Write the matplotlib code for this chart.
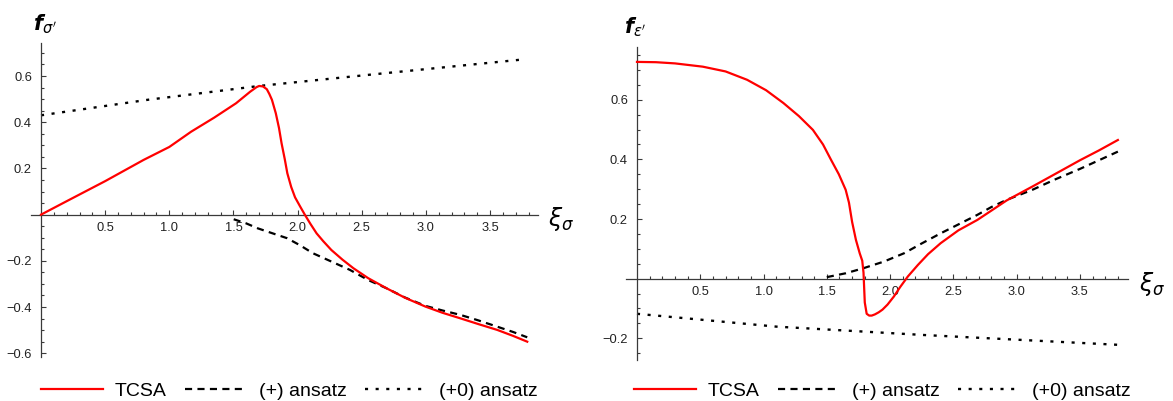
import matplotlib
matplotlib.use("Agg")
import matplotlib.pyplot as plt
import numpy as np
from matplotlib.ticker import FixedLocator

plt.rcParams['font.family'] = ['Liberation Sans', 'DejaVu Sans']
plt.rcParams['mathtext.fontset'] = 'dejavusans'

# ---------------- data: left panel (f_sigma') ----------------
L_tcsa_x = [0.0, 0.22, 0.50, 0.80, 1.00, 1.17, 1.35, 1.52, 1.63, 1.68, 1.70, 1.73, 1.76, 1.78,
            1.80, 1.83, 1.855, 1.875, 1.90, 1.92, 1.95, 1.98, 2.02, 2.056, 2.10, 2.148, 2.20,
            2.263, 2.35, 2.435, 2.55, 2.694, 2.838, 2.996, 3.13, 3.269, 3.41, 3.556, 3.68, 3.79]
L_tcsa_y = [0.0, 0.064, 0.145, 0.237, 0.293, 0.359, 0.42, 0.482, 0.532, 0.552, 0.557, 0.555, 0.543, 0.522,
            0.497, 0.439, 0.375, 0.309, 0.240, 0.179, 0.120, 0.075, 0.035, 0.0, -0.040, -0.081, -0.115,
            -0.153, -0.195, -0.232, -0.275, -0.319, -0.360, -0.398, -0.425, -0.449, -0.474, -0.499, -0.525, -0.550]
L_plus_x = [1.502, 1.60, 1.688, 1.80, 1.918, 2.02, 2.119, 2.263, 2.407, 2.55, 2.694, 2.838,
            2.996, 3.13, 3.269, 3.41, 3.556, 3.68, 3.79]
L_plus_y = [-0.02, -0.038, -0.059, -0.080, -0.102, -0.133, -0.167, -0.203, -0.239, -0.283, -0.319, -0.359,
            -0.395, -0.415, -0.434, -0.458, -0.485, -0.508, -0.531]
L_plus0_x = [0.0, 0.83, 1.70, 2.55, 3.78]
L_plus0_y = [0.43, 0.497, 0.557, 0.605, 0.673]

# ---------------- data: right panel (f_epsilon') ----------------
R_tcsa_x = [0.0, 0.15, 0.30, 0.52, 0.70, 0.87, 1.02, 1.157, 1.28, 1.39, 1.47, 1.534, 1.595, 1.649,
            1.675, 1.70, 1.73, 1.76, 1.78, 1.79, 1.80, 1.815, 1.835, 1.855, 1.88, 1.91, 1.94,
            1.98, 2.03, 2.08, 2.14, 2.22, 2.30, 2.40, 2.54, 2.69, 2.80, 2.92, 3.125, 3.30, 3.50, 3.65, 3.80]
R_tcsa_y = [0.727, 0.726, 0.722, 0.711, 0.695, 0.667, 0.632, 0.589, 0.545, 0.499, 0.450, 0.398, 0.350, 0.298,
            0.255, 0.190, 0.130, 0.085, 0.060, 0.020, -0.080, -0.118, -0.124, -0.124, -0.120, -0.113, -0.104,
            -0.087, -0.060, -0.028, 0.007, 0.046, 0.082, 0.119, 0.162, 0.197, 0.228, 0.262, 0.309, 0.350, 0.397, 0.430, 0.465]
R_plus_x = [1.50, 1.65, 1.79, 1.95, 2.11, 2.25, 2.40, 2.55, 2.69, 2.80, 2.92, 3.125, 3.30, 3.50, 3.65, 3.80]
R_plus_y = [0.005, 0.018, 0.035, 0.057, 0.085, 0.118, 0.152, 0.184, 0.214, 0.240, 0.264, 0.298, 0.332, 0.368, 0.397, 0.426]
R_plus0_x = [0.0, 1.10, 2.26, 3.80]
R_plus0_y = [-0.118, -0.161, -0.189, -0.222]

x_ticks = [0.5, 1.0, 1.5, 2.0, 2.5, 3.0, 3.5]
L_y_ticks = [-0.6, -0.4, -0.2, 0.2, 0.4, 0.6]
R_y_ticks = [-0.2, 0.2, 0.4, 0.6]
legend_labels = ['TCSA', '(+) ansatz', '(+0) ansatz']

W, H = 1173, 401
fig = plt.figure(figsize=(W / 100, H / 100), dpi=100)

AX_COL = '#3a3a3a'


def px_axes(x0, x1, y0, y1):
    return fig.add_axes([x0 / W, 1 - y1 / H, (x1 - x0) / W, (y1 - y0) / H])


def style(ax, xlim, ylim, yticks, yminor):
    ax.set_xlim(*xlim)
    ax.set_ylim(*ylim)
    for s in ['top', 'right']:
        ax.spines[s].set_visible(False)
    ax.spines['left'].set_position(('data', 0))
    ax.spines['bottom'].set_position(('data', 0))
    for s in ['left', 'bottom']:
        ax.spines[s].set_color(AX_COL)
        ax.spines[s].set_linewidth(0.9)
    ax.xaxis.set_major_locator(FixedLocator(x_ticks))
    ax.xaxis.set_minor_locator(FixedLocator(np.round(np.arange(0.1, 3.85, 0.1), 2)))
    ax.yaxis.set_major_locator(FixedLocator(yticks))
    ax.yaxis.set_minor_locator(FixedLocator(yminor))
    ax.set_xticklabels([f'{v:.1f}' for v in x_ticks])
    ax.set_yticklabels([f'{v:.1f}'.replace('-', '\u2212') for v in yticks])
    ax.tick_params(which='both', direction='in', color=AX_COL, width=0.8,
                   labelsize=9.3, labelcolor='#222222')
    ax.tick_params(which='major', length=3.8)
    ax.tick_params(which='minor', length=2.2)
    ax.tick_params(axis='x', pad=5)
    ax.tick_params(axis='y', pad=6.5)
    ax.patch.set_alpha(0)


def draw(ax, tx, ty, px, py, p0x, p0y):
    h1, = ax.plot(tx, ty, color='#ff0000', lw=1.6, solid_joinstyle='round', zorder=3)
    h2, = ax.plot(px, py, color='black', lw=1.6, linestyle=(0, (3.2, 2.4)), zorder=2)
    h3, = ax.plot(p0x, p0y, color='black', lw=1.7, linestyle=(0, (1.3, 3.2)), zorder=2)
    return [h1, h2, h3]


# left panel
axL = px_axes(31.4, 537.5, 43, 356.7)
style(axL, (-0.075, 3.87), (-0.615, 0.743), L_y_ticks,
      [v for v in np.round(np.arange(-0.6, 0.75, 0.05), 2) if v not in L_y_ticks and v != 0])
hL = draw(axL, L_tcsa_x, L_tcsa_y, L_plus_x, L_plus_y, L_plus0_x, L_plus0_y)

# right panel
axR = px_axes(625.6, 1128, 46.7, 360)
style(axR, (-0.09, 3.88), (-0.273, 0.778), R_y_ticks,
      [v for v in np.round(np.arange(-0.25, 0.78, 0.05), 2) if v not in R_y_ticks and v != 0])
hR = draw(axR, R_tcsa_x, R_tcsa_y, R_plus_x, R_plus_y, R_plus0_x, R_plus0_y)

# axis labels
fig.text(45 / W, 1 - 24 / H, r"$\mathbfit{f}_{\sigma'}$", fontsize=15, ha='center', va='center')
fig.text(561 / W, 1 - 219 / H, r"$\xi_{\sigma}$", fontsize=17, ha='center', va='center')
fig.text(635 / W, 1 - 27 / H, r"$\mathbfit{f}_{\epsilon'}$", fontsize=15, ha='center', va='center')
fig.text(1152 / W, 1 - 284 / H, r"$\xi_{\sigma}$", fontsize=17, ha='center', va='center')

# legends
for handles, x0 in [(hL, 41), (hR, 634)]:
    fig.legend(handles, legend_labels, loc='center left',
               bbox_to_anchor=(x0 / W, 1 - 391 / H), ncol=3, frameon=False,
               fontsize=14, handlelength=3.2, handletextpad=0.57,
               columnspacing=0.98, borderpad=0, borderaxespad=0)

fig.savefig('out.png', dpi=100)
